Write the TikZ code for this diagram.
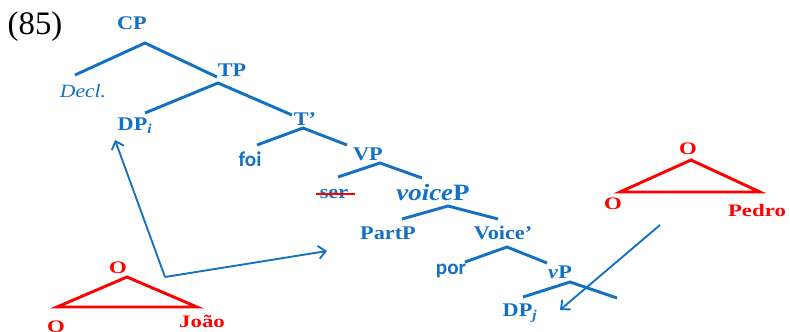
\documentclass[tikz,border=0pt]{standalone}
\usepackage{fontspec}
\setmainfont{Liberation Serif}
\newfontfamily\catfont[FakeStretch=1.15]{Liberation Serif}
\newfontfamily\redfont[FakeStretch=1.3]{Liberation Serif}
\newfontfamily\wordfont{Carlito}
\usepackage{tikz}
\usetikzlibrary{arrows.meta}
\definecolor{treeblue}{RGB}{20,112,192}

\begin{document}
\begin{tikzpicture}[x=0.03cm,y=-0.03cm,
    cat/.style={text=treeblue,inner sep=1pt,font=\catfont\bfseries\fontsize{16.5}{18}\selectfont},
    gloss/.style={text=treeblue,inner sep=1pt,font=\catfont\itshape\fontsize{16}{18}\selectfont},
    word/.style={text=treeblue,inner sep=1pt,font=\wordfont\bfseries\fontsize{18}{20}\selectfont},
    olab/.style={text=red,inner sep=1pt,font=\redfont\bfseries\fontsize{15}{17}\selectfont},
    branch/.style={draw=treeblue,line width=2.5pt},
    move/.style={draw=treeblue,line width=1.6pt,->,>={Straight Barb[length=6pt,width=11pt]}},
    tri/.style={draw=red,line width=2.5pt},
    strike/.style={draw=red,line width=2.5pt,shorten <=-2pt,shorten >=-5pt}]
    \useasboundingbox (0,0) rectangle (790,331);

    \node at (35,27) (ex) {\fontsize{28}{30}\selectfont(85)};

    % tree labels
    \node[cat] at (132,23) (cp) {CP};
    \node[gloss] at (83,91) (decl) {Decl.};
    \node[cat] at (135,126) (dpi) {DP\textsubscript{\textit{i}}};
    \node[cat] at (232,70) (tp) {TP};
    \node[cat] at (305,119) (tbar) {T’};
    \node[word] at (250,159) (foi) {foi};
    \node[cat] at (368,154) (vp) {VP};
    \node[cat] at (334,194) (ser) {ser};
    \node[cat,font=\catfont\bfseries\fontsize{20}{22}\selectfont] at (433,192) (voicep) {\textit{voice}P};
    \node[cat] at (388,233) (partp) {PartP};
    \node[cat] at (503,233) (voicebar) {Voice’};
    \node[word] at (451,271) (por) {por};
    \node[cat] at (560,272) (littlevp) {\textit{v}P};
    \node[cat] at (520,313) (dpj) {DP\textsubscript{\textit{j}}};

    % joints and branch ends
    \coordinate (cp-j) at (145,43);
    \coordinate (decl-e) at (75,75);
    \coordinate (tp-e) at (217,77);
    \coordinate (tp-j) at (218,83);
    \coordinate (dpi-e) at (145,113);
    \coordinate (tbar-e) at (292,115);
    \coordinate (tbar-j) at (303,128);
    \coordinate (foi-e) at (257,145);
    \coordinate (vp-e) at (347,145);
    \coordinate (vp-j) at (380,163);
    \coordinate (ser-e) at (338,177);
    \coordinate (voicep-e) at (422,178);
    \coordinate (voicep-j) at (448,206);
    \coordinate (partp-e) at (402,219);
    \coordinate (voicebar-e) at (498,219);
    \coordinate (voicebar-j) at (507,247);
    \coordinate (por-e) at (465,262);
    \coordinate (littlevp-e) at (547,263);
    \coordinate (littlevp-j) at (570,282);
    \coordinate (dpj-e) at (523,297);
    \coordinate (comp-e) at (617,298);

    \draw[branch] (decl-e) -- (cp-j) -- (tp-e);
    \draw[branch] (dpi-e) -- (tp-j) -- (tbar-e);
    \draw[branch] (foi-e) -- (tbar-j) -- (vp-e);
    \draw[branch] (ser-e) -- (vp-j) -- (voicep-e);
    \draw[branch] (partp-e) -- (voicep-j) -- (voicebar-e);
    \draw[branch] (por-e) -- (voicebar-j) -- (littlevp-e);
    \draw[branch] (dpj-e) -- (littlevp-j) -- (comp-e);
    \draw[strike] (ser.west) -- (ser.east);

    % Joao
    \coordinate (j-top) at (127,277);
    \coordinate (j-left) at (57,307);
    \coordinate (j-right) at (197,307);
    \draw[tri] (j-top) -- (j-left) -- (j-right) -- cycle;
    \node[olab] at (118,268) (j-o1) {O};
    \node[olab] at (56,327) (j-o2) {O};
    \node[olab] at (202,321) (joao) {João};

    % Pedro
    \coordinate (p-top) at (691,160);
    \coordinate (p-left) at (620,192);
    \coordinate (p-right) at (760,192);
    \draw[tri] (p-top) -- (p-left) -- (p-right) -- cycle;
    \node[olab] at (688,149) (p-o1) {O};
    \node[olab] at (613,204) (p-o2) {O};
    \node[olab] at (757,210) (pedro) {Pedro};

    % movement arrows
    \coordinate (j-bend) at (165,277);
    \coordinate (dpi-tip) at (115,140);
    \coordinate (partp-tip) at (327,251);
    \coordinate (p-from) at (660,225);
    \coordinate (dpj-tip) at (560,310);
    \draw[move] (j-bend) -- (dpi-tip);
    \draw[move] (j-bend) -- (partp-tip);
    \draw[move] (p-from) -- (dpj-tip);
\end{tikzpicture}
\end{document}
